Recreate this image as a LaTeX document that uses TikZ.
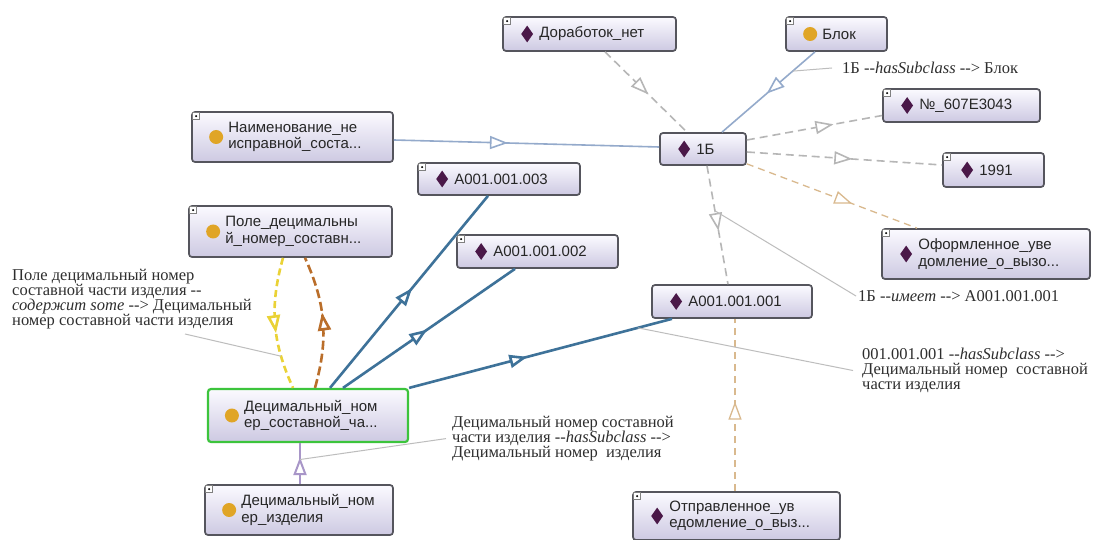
\documentclass[tikz,border=0pt]{standalone}
\usepackage{fontspec}
\setmainfont{Liberation Serif}[Ligatures=TeXOff]
\setsansfont{Liberation Sans}[Ligatures=TeXOff]
\usetikzlibrary{arrows.meta,decorations.markings,shapes.geometric}

\definecolor{boxedge}{HTML}{55555D}
\definecolor{boxtop}{HTML}{FBFAFF}
\definecolor{boxbot}{HTML}{CDC9E2}
\definecolor{indiv}{HTML}{4A1848}
\definecolor{classdot}{HTML}{E0A526}
\definecolor{greyedge}{HTML}{B6B6B6}
\definecolor{paleblue}{HTML}{94AACB}
\definecolor{deepblue}{HTML}{3E7299}
\definecolor{tanedge}{HTML}{D9B98E}
\definecolor{yellowedge}{HTML}{EAD236}
\definecolor{brownedge}{HTML}{BA6E2A}
\definecolor{lilac}{HTML}{A896C8}
\definecolor{leadergrey}{HTML}{BDBDBD}
\definecolor{selgreen}{HTML}{3CC43C}

\tikzset{
  x=1pt, y=-1pt,
  opentri/.tip={Triangle[fill=white, length=18pt, width=13pt]},
  onode/.style={draw=boxedge, line width=1.7pt, rounded corners=3pt,
    top color=boxtop, bottom color=boxbot, inner sep=0pt},
  selected/.style={draw=selgreen, line width=2.2pt},
  ntext/.style={font=\sffamily\fontsize{15}{16.5}\selectfont, align=left,
    anchor=west, inner sep=0pt, text=black!85},
  indivicon/.style={diamond, fill=indiv, minimum width=12pt,
    minimum height=17pt, inner sep=0pt},
  classicon/.style={circle, fill=classdot, minimum size=14pt, inner sep=0pt},
  plusbox/.style={draw=gray, fill=white, minimum size=7pt, inner sep=0pt,
    line width=0.6pt, path picture={\fill[black]
      (path picture bounding box.center) circle (1.1pt);}},
  tipat/.style={postaction={decorate}, decoration={markings,
    mark=at position #1 with {\arrow{opentri}}}},
  greydash/.style={draw=greyedge, line width=1.6pt, dash pattern=on 8pt off 5pt},
  tandash/.style={draw=tanedge, line width=1.3pt, dash pattern=on 7pt off 5pt},
  paleline/.style={draw=paleblue, line width=1.6pt},
  deepline/.style={draw=deepblue, line width=2.6pt},
  lilacline/.style={draw=lilac, line width=2pt},
  yellowdash/.style={draw=yellowedge, line width=2.6pt, dash pattern=on 7pt off 4pt},
  browndash/.style={draw=brownedge, line width=2.6pt, dash pattern=on 9pt off 4pt},
  lbl/.style={font=\rmfamily\fontsize{16.5}{15}\selectfont, align=left,
    inner sep=0pt, text=black!82},
  leader/.style={draw=leadergrey, line width=1pt},
}

% box with icon and caption: name, x, y, width, height, icon style, text, extra style
\newcommand\ontonode[8]{%
  \node[onode, #8, minimum width=#4pt, minimum height=#5pt] (#1) at (#2,#3) {};
  \node[#6] (#1-i) at ([xshift=25pt]#1.west) {};
  \node[ntext] (#1-t) at ([xshift=37pt]#1.west) {#7};
}
\newcommand\plusmark[1]{\node[plusbox] (#1-p) at ([xshift=5pt,yshift=-5pt]#1.north west) {};}

\begin{document}
\begin{tikzpicture}
\fill[white] (0,0) rectangle (1093,540);
\useasboundingbox (0,0) rectangle (1093,540);

% ---------- boxes ----------
\ontonode{dor}{589.5}{34}{173}{34}{indivicon}{Доработок\_нет}{}
\ontonode{blok}{836.5}{34}{101}{34}{classicon}{Блок}{}
\ontonode{b1}{703}{149}{86}{32}{indivicon}{1Б}{}
\ontonode{naim}{292.5}{137}{201}{50}{classicon}{Наименование\_не\\исправной\_соста...}{}
\ontonode{a3}{499}{179}{162}{32}{indivicon}{A001.001.003}{}
\ontonode{pole}{290.5}{231.5}{203}{51}{classicon}{Поле\_децимальны\\й\_номер\_составн...}{}
\ontonode{a2}{537.5}{251.5}{161}{33}{indivicon}{A001.001.002}{}
\ontonode{nom}{961.5}{105.5}{157}{33}{indivicon}{№\_607E3043}{}
\ontonode{yr}{993.5}{170}{101}{34}{indivicon}{1991}{}
\ontonode{oform}{986}{254}{208}{50}{indivicon}{Оформленное\_уве\\домление\_о\_вызо...}{}
\ontonode{a1}{732}{301.5}{160}{33}{indivicon}{A001.001.001}{}
\ontonode{green}{308}{415.5}{200}{53}{classicon}{Децимальный\_ном\\ер\_составной\_ча...}{selected}
\ontonode{izd}{299}{510}{188}{50}{classicon}{Децимальный\_ном\\ер\_изделия}{}
\ontonode{otpr}{736.5}{516}{207}{48}{indivicon}{Отправленное\_ув\\едомление\_о\_выз...}{}

\foreach \n in {dor,blok,naim,a3,pole,a2,nom,yr,oform,izd,otpr} {\plusmark{\n}}

% ---------- connectors ----------
\draw[greydash, tipat=0.53] ([xshift=15.5pt]dor.south) -- ([xshift=-16pt]b1.north);
\draw[paleline, tipat=0.52] ([xshift=-21.5pt]blok.south) -- coordinate[pos=0.24] (blokLead) ([xshift=19pt]b1.north);
\draw[paleline, tipat=0.43] ([yshift=-3pt]naim.east) -- ([yshift=2pt]b1.west);
\draw[greydash, tipat=0.64] ([yshift=9pt]b1.east) -- ([yshift=-10pt]nom.west);
\draw[greydash, tipat=0.54] ([yshift=-3pt]b1.east) -- ([yshift=5pt]yr.west);
\draw[tandash, tipat=0.62] ([yshift=2pt]b1.south east) -- ([xshift=-69pt]oform.north);
\draw[greydash, tipat=0.55] ([xshift=4pt]b1.south) -- coordinate[pos=0.38] (imLead) ([xshift=-4pt]a1.north);
\draw[tandash, tipat=0.52] ([xshift=-1.5pt]otpr.north) -- ([xshift=3pt]a1.south);
\draw[deepline, tipat=0.52] ([xshift=22pt]green.north) -- ([xshift=-11pt]a3.south);
\draw[deepline, tipat=0.49] ([xshift=35pt]green.north) -- ([xshift=-22.5pt]a2.south);
\draw[deepline, tipat=0.45] (green.north east) -- coordinate[pos=0.87] (subLead) ([xshift=-60pt]a1.south);
\draw[lilacline, tipat=0.66] ([xshift=1pt]izd.north) -- coordinate[pos=0.6] (izdLead) ([xshift=-8pt]green.south);
\draw[yellowdash, tipat=0.57] ([xshift=-7.5pt]pole.south) to[bend right=20] coordinate[pos=0.76] (yelLead) ([xshift=-15pt]green.north);
\draw[browndash, tipat=0.57] ([xshift=7pt]green.north) to[bend right=20] ([xshift=14.5pt]pole.south);

% ---------- edge captions ----------
\node[lbl, anchor=west] (lab1) at (842,68) {1Б --\textit{hasSubclass} --> Блок};
\node[lbl, anchor=west] (lab2) at (858,296) {1Б --\textit{имеет} --> A001.001.001};
\node[lbl, anchor=north west] (lab3) at (862,348)
  {001.001.001 --\textit{hasSubclass} -->\\Децимальный номер\ \ составной\\части изделия};
\node[lbl, anchor=north west] (lab4) at (12,269)
  {Поле децимальный номер\\составной части изделия --\\\textit{содержит some} --> Децимальный\\номер составной части изделия};
\node[lbl, anchor=north west] (lab5) at (452,416)
  {Децимальный номер составной\\части изделия --\textit{hasSubclass} -->\\Децимальный номер\ \ изделия};

\coordinate (lab4Lead) at (185,334);
\draw[leader] (blokLead) -- ([xshift=-10pt]lab1.west);
\draw[leader] (imLead) -- ([xshift=-2pt]lab2.west);
\draw[leader] (subLead) -- ([xshift=-9pt]lab3.west);
\draw[leader] (lab4Lead) -- (yelLead);
\draw[leader] (izdLead) -- ([xshift=-6pt]lab5.west);
\end{tikzpicture}
\end{document}
